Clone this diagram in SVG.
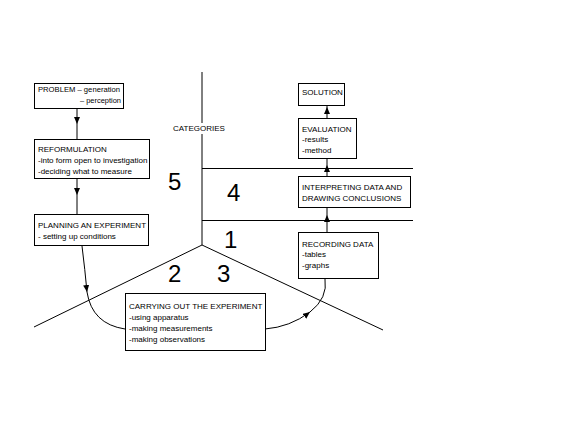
<svg xmlns="http://www.w3.org/2000/svg" width="576" height="432" viewBox="0 0 576 432">
<style>
text{font-family:"Liberation Sans",Arial,sans-serif;font-size:8px;fill:#000}
.box{fill:#fff;stroke:#000;stroke-width:1}
.ln{fill:none;stroke:#000;stroke-width:1}
.num{font-size:24px}
</style>
<defs>
<marker id="ah" markerUnits="userSpaceOnUse" markerWidth="8" markerHeight="8" refX="7" refY="3" orient="auto">
<path d="M0,0 L7,3 L0,6 z" fill="#000"/>
</marker>
</defs>
<rect width="576" height="432" fill="#fff"/>
<g id="dividers">
<line class="ln" x1="202" y1="72" x2="202" y2="245"/>
<line class="ln" x1="202" y1="245" x2="34" y2="327"/>
<line class="ln" x1="202" y1="245" x2="383" y2="330"/>
<line class="ln" x1="202" y1="168.5" x2="413" y2="168.5"/>
<line class="ln" x1="202" y1="220.5" x2="413" y2="220.5"/>
</g>
<g id="labels">
<rect x="172" y="123" width="55" height="11" fill="#fff"/>
<text x="173" y="131">CATEGORIES</text>
<text class="num" x="168" y="190">5</text>
<text class="num" x="227" y="201">4</text>
<text class="num" x="224" y="248">1</text>
<text class="num" x="168" y="282">2</text>
<text class="num" x="217" y="282">3</text>
</g>
<g id="connectors">
<path class="ln" d="M77,108 L77,124 L77,139" marker-mid="url(#ah)"/>
<path class="ln" d="M77,178 L77,195 L77,214" marker-mid="url(#ah)"/>
<path class="ln" d="M327,118 L327,107 L327,105" marker-mid="url(#ah)"/>
<path class="ln" d="M327,176 L327,165 L327,158" marker-mid="url(#ah)"/>
<path class="ln" d="M327,232 L327,215 L327,207" marker-mid="url(#ah)"/>
<path class="ln" d="M82,246 Q85,270 87,292 Q92,324 125,329" marker-mid="url(#ah)"/>
<path class="ln" d="M265,329 Q290,327 310,312 Q328,298 325,279" marker-mid="url(#ah)"/>
</g>
<g id="problem">
<rect class="box" x="34.5" y="83.5" width="89" height="25"/>
<text x="38" y="92" textLength="82" lengthAdjust="spacingAndGlyphs">PROBLEM – generation</text>
<text x="80" y="103" textLength="41" lengthAdjust="spacingAndGlyphs">– perception</text>
</g>
<g id="reformulation">
<rect class="box" x="34.5" y="139.5" width="115" height="39"/>
<text x="38" y="152">REFORMULATION</text>
<text x="38" y="163">-into form open to investigation</text>
<text x="38" y="174">-deciding what to measure</text>
</g>
<g id="planning">
<rect class="box" x="34.5" y="214.5" width="114" height="31"/>
<text x="38" y="228">PLANNING AN EXPERIMENT</text>
<text x="38" y="239">- setting up conditions</text>
</g>
<g id="carrying">
<rect class="box" x="125.5" y="293.5" width="140" height="57"/>
<text x="129" y="309">CARRYING OUT THE EXPERIMENT</text>
<text x="129" y="320">-using apparatus</text>
<text x="129" y="331">-making measurements</text>
<text x="129" y="342">-making observations</text>
</g>
<g id="recording">
<rect class="box" x="298.5" y="232.5" width="80" height="46"/>
<text x="302" y="247">RECORDING DATA</text>
<text x="302" y="257">-tables</text>
<text x="302" y="268">-graphs</text>
</g>
<g id="interpreting">
<rect class="box" x="298.5" y="176.5" width="112" height="31"/>
<text x="302" y="190">INTERPRETING DATA AND</text>
<text x="302" y="201">DRAWING CONCLUSIONS</text>
</g>
<g id="evaluation">
<rect class="box" x="298.5" y="118.5" width="58" height="40"/>
<text x="302" y="132">EVALUATION</text>
<text x="302" y="142">-results</text>
<text x="302" y="153">-method</text>
</g>
<g id="solution">
<rect class="box" x="298.5" y="83.5" width="46" height="22"/>
<text x="302" y="95">SOLUTION</text>
</g>
</svg>
